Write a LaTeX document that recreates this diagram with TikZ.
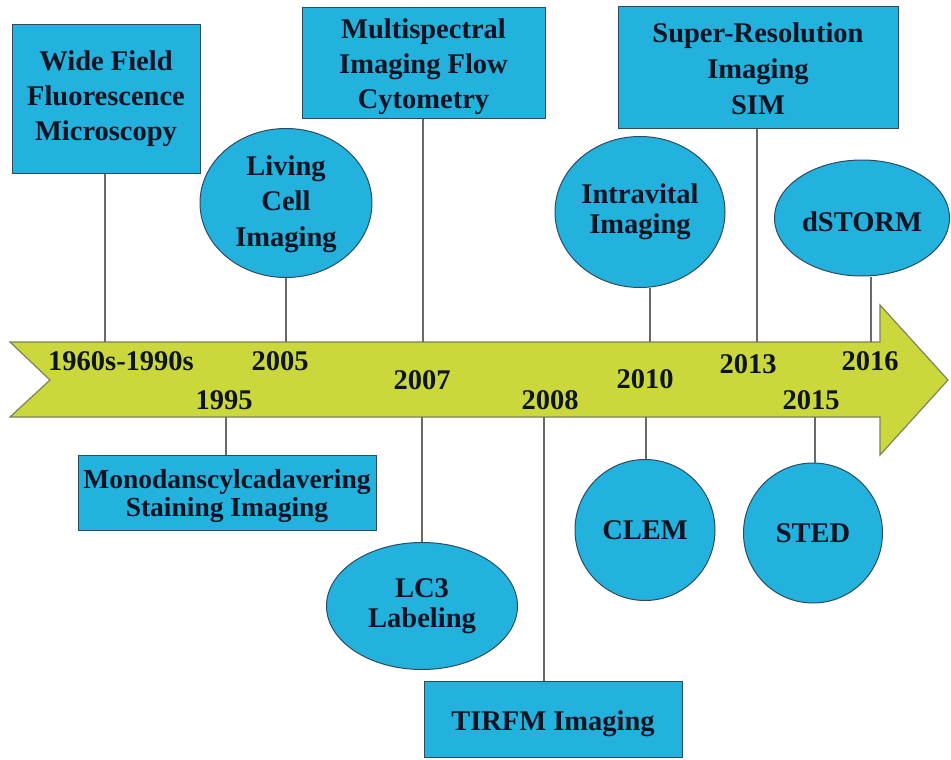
\documentclass[tikz,border=0pt]{standalone}
\usepackage{fontspec}
\setmainfont{Liberation Serif}
\usetikzlibrary{shapes.geometric}
\definecolor{boxblue}{RGB}{35,178,222}
\definecolor{arrowgreen}{RGB}{202,216,60}
\definecolor{arrowedge}{RGB}{125,130,90}
\definecolor{boxedge}{RGB}{45,75,95}
\definecolor{txtcol}{RGB}{15,20,35}
\definecolor{conncol}{RGB}{105,105,105}
\begin{document}
\begin{tikzpicture}[x=1pt,y=-1pt,
  basebox/.style={fill=boxblue, draw=boxedge, line width=1pt, align=center, text=txtcol,
    font=\bfseries\fontsize{28.5}{34}\selectfont, inner sep=0pt},
  rbox/.style={basebox, rectangle},
  oval/.style={basebox, ellipse},
  year/.style={text=txtcol, font=\bfseries\fontsize{28.5}{32}\selectfont, anchor=base, inner sep=0pt},
  conn/.style={draw=conncol, line width=1.1pt}]
\useasboundingbox (0,0) rectangle (951,760);

% timeline arrow
\draw[fill=arrowgreen, draw=arrowedge, line width=1.2pt, line join=miter]
  (10,342) -- (880,342) -- (880,305) -- (948,380) -- (880,455) -- (880,417) -- (10,417) -- (50,380) -- cycle;

% upper items
\node[rbox, minimum width=188pt, minimum height=148pt, font=\bfseries\fontsize{28.5}{35}\selectfont] (wf) at (106,99) {Wide Field\\Fluorescence\\Microscopy};
\node[oval, minimum width=172pt, minimum height=149pt, font=\bfseries\fontsize{28.5}{35.5}\selectfont, text height=93pt] (lc) at (286,203) {Living\\Cell\\Imaging};
\node[rbox, minimum width=243pt, minimum height=110pt, font=\bfseries\fontsize{28.5}{35}\selectfont, text height=98pt] (ms) at (423.5,63) {Multispectral\\Imaging Flow\\Cytometry};
\node[oval, minimum width=170pt, minimum height=151pt, font=\bfseries\fontsize{28.5}{30}\selectfont] (iv) at (640,212) {Intravital\\Imaging};
\node[rbox, minimum width=280pt, minimum height=121pt, font=\bfseries\fontsize{28.5}{36}\selectfont, text height=95pt] (sr) at (758,67.5) {Super-Resolution\\Imaging\\SIM};
\node[oval, minimum width=175pt, minimum height=116pt, text height=28pt] (ds) at (862,218) {dSTORM};

% lower items
\node[rbox, minimum width=298pt, minimum height=75pt, font=\bfseries\fontsize{27.5}{28}\selectfont, text height=55pt] (mono) at (227,492.5) {Monodanscylcadavering\\Staining Imaging};
\node[oval, minimum width=191pt, minimum height=127pt, font=\bfseries\fontsize{28.5}{30}\selectfont] (lc3) at (422,606) {LC3\\Labeling};
\node[rbox, minimum width=258pt, minimum height=76pt, text height=29pt] (tirfm) at (553,719.5) {TIRFM Imaging};
\node[oval, minimum width=140pt, minimum height=141pt] (clem) at (645,530) {CLEM};
\node[oval, minimum width=139pt, minimum height=140pt] (sted) at (813,533) {STED};

% connector anchors on the arrow
\coordinate (c1) at (105,342);
\coordinate (c2) at (286,342);
\coordinate (c3) at (423,342);
\coordinate (c4) at (650,342);
\coordinate (c5) at (757,342);
\coordinate (c6) at (871,342);
\coordinate (d1) at (226,417);
\coordinate (d2) at (422,417);
\coordinate (d3) at (544,417);
\coordinate (d4) at (646,417);
\coordinate (d5) at (815,417);

\draw[conn] (c1) -- (c1 |- wf.south);
\draw[conn] (c2) -- (c2 |- lc.south);
\draw[conn] (c3) -- (c3 |- ms.south);
\draw[conn] (c4) -- (c4 |- iv.south);
\draw[conn] (c5) -- (c5 |- sr.south);
\draw[conn] (c6) -- (c6 |- ds.south);
\draw[conn] (d1) -- (d1 |- mono.north);
\draw[conn] (d2) -- (d2 |- lc3.north);
\draw[conn] (d3) -- (d3 |- tirfm.north);
\draw[conn] (d4) -- (d4 |- clem.north);
\draw[conn] (d5) -- (d5 |- sted.north);

% years
\node[year] (y1) at (121,370) {1960s-1990s};
\node[year] (y2) at (280,370) {2005};
\node[year] (y3) at (224,409) {1995};
\node[year] (y4) at (422,389) {2007};
\node[year] (y5) at (550,409) {2008};
\node[year] (y6) at (645,388) {2010};
\node[year] (y7) at (748,373) {2013};
\node[year] (y8) at (811,409) {2015};
\node[year] (y9) at (870,370) {2016};
\end{tikzpicture}
\end{document}
